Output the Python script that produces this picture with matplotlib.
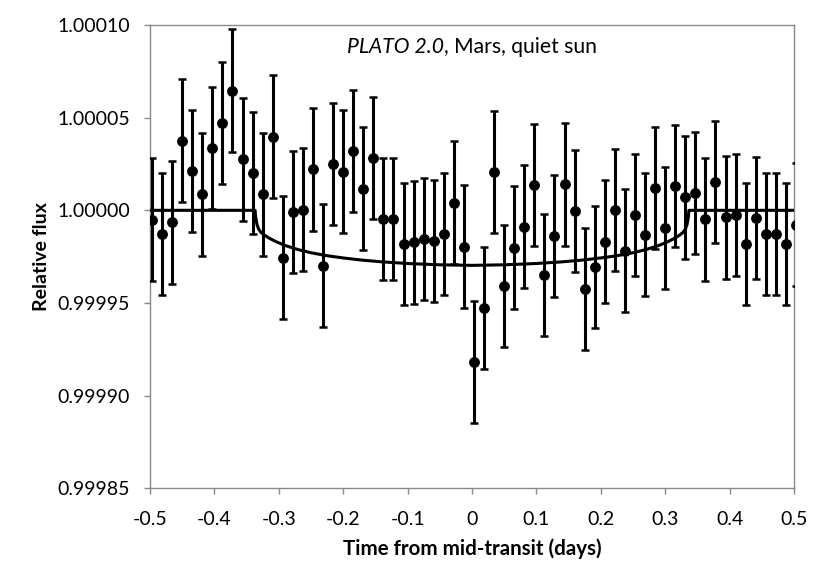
import matplotlib
matplotlib.use("Agg")
import matplotlib.pyplot as plt
import numpy as np

# Time from mid-transit (days)
time_days = [-0.4969, -0.4813, -0.4656, -0.4500, -0.4344, -0.4188, -0.4031, -0.3875,
             -0.3719, -0.3563, -0.3406, -0.3250, -0.3094, -0.2938, -0.2781, -0.2625,
             -0.2469, -0.2313, -0.2156, -0.2000, -0.1844, -0.1688, -0.1531, -0.1375,
             -0.1219, -0.1063, -0.0906, -0.0750, -0.0594, -0.0438, -0.0281, -0.0125,
             0.0031, 0.0188, 0.0344, 0.0500, 0.0656, 0.0813, 0.0969, 0.1125,
             0.1281, 0.1438, 0.1594, 0.1750, 0.1906, 0.2063, 0.2219, 0.2375,
             0.2531, 0.2688, 0.2844, 0.3000, 0.3156, 0.3313, 0.3469, 0.3625,
             0.3781, 0.3938, 0.4094, 0.4250, 0.4406, 0.4563, 0.4719, 0.4875, 0.5031]

# Deviation from unity (ppm)
flux_ppm = [-5.0, -12.9, -6.5, 37.6, 21.3, 8.6, 33.8, 47.3,
            64.6, 27.5, 20.2, 8.6, 39.8, -25.5, -0.9, 0.4,
            22.1, -29.8, 25.0, 20.9, 32.0, 11.7, 28.4, -4.6,
            -4.6, -18.0, -17.3, -15.4, -16.5, -12.9, 4.2, -19.6,
            -81.8, -52.7, 20.5, -41.0, -20.1, -8.8, 13.5, -34.8,
            -13.8, 14.0, -0.5, -42.6, -30.4, -16.9, 0.0, -21.7,
            -2.7, -13.1, 11.9, -9.5, 13.3, 7.0, 9.5, -4.9,
            15.3, -3.8, -2.7, -18.0, -4.3, -12.6, -12.6, -18.0, -7.7]

error_ppm = 33.0

# Transit model curve
model_t = [-0.5, -0.3368, -0.3360, -0.3340, -0.3315, -0.3280, -0.3220, -0.3150,
           -0.3050, -0.2900, -0.2700, -0.2500, -0.2250, -0.2000, -0.1700, -0.1400,
           -0.1000, -0.0500, 0.0,
           0.0500, 0.1000, 0.1400, 0.1700, 0.2000, 0.2250, 0.2500, 0.2700,
           0.2900, 0.3050, 0.3150, 0.3220, 0.3280, 0.3315, 0.3340, 0.3360, 0.3368, 0.5]
model_ppm = [0.0, 0.0, -3.5, -7.5, -10.0, -11.8, -13.5, -15.0,
             -16.8, -19.0, -21.2, -22.9, -24.5, -25.7, -26.9, -27.8,
             -28.7, -29.4, -29.7,
             -29.4, -28.7, -27.8, -26.9, -25.7, -24.5, -22.9, -21.2,
             -19.0, -16.8, -15.0, -13.5, -11.8, -10.0, -7.5, -3.5, 0.0, 0.0]

x_ticks = [-0.5, -0.4, -0.3, -0.2, -0.1, 0, 0.1, 0.2, 0.3, 0.4, 0.5]
x_tick_labels = ["-0.5", "-0.4", "-0.3", "-0.2", "-0.1", "0", "0.1", "0.2", "0.3", "0.4", "0.5"]
y_ticks = [0.99985, 0.99990, 0.99995, 1.00000, 1.00005, 1.00010]
y_tick_labels = ["0.99985", "0.99990", "0.99995", "1.00000", "1.00005", "1.00010"]

title_italic = "PLATO 2.0"
title_rest = ", Mars, quiet sun"

FONT = "Lato"
plt.rcParams['font.family'] = [FONT, 'DejaVu Sans']

fig = plt.figure(figsize=(8.3, 5.86), dpi=100)
ax = fig.add_axes([150/830, 1-488.3/586, (794-150)/830, (488.3-25)/586])

t = np.array(time_days)
f = 1.0 + np.array(flux_ppm) * 1e-6
ax.errorbar(t, f, yerr=error_ppm * 1e-6, fmt='o', color='black', ms=6.8,
            elinewidth=2.2, capsize=2.6, capthick=1.8, zorder=3)
ax.plot(model_t, 1.0 + np.array(model_ppm) * 1e-6, color='black', lw=2.2, zorder=4)

ax.set_xlim(-0.5, 0.5)
ax.set_ylim(0.99985, 1.00010)
ax.set_xticks(x_ticks)
ax.set_xticklabels(x_tick_labels)
ax.set_yticks(y_ticks)
ax.set_yticklabels(y_tick_labels)

spine_col = '#898989'
for s in ax.spines.values():
    s.set_color(spine_col)
    s.set_linewidth(1.0)
ax.tick_params(axis='both', direction='out', length=4.5, width=1.0, color=spine_col,
               labelsize=14, labelcolor='black')
ax.tick_params(axis='x', pad=12)
ax.tick_params(axis='y', pad=10)

ax.set_xlabel("Time from mid-transit (days)", fontsize=14.8, fontweight='bold', labelpad=7)
ax.set_ylabel("Relative flux", fontsize=14, fontweight='bold', labelpad=5)

# Title with italic first part, centred as a whole
t1 = ax.text(0.5, 0.953, title_italic, transform=ax.transAxes, ha='left', va='center',
             fontsize=15.2, style='italic')
t2 = ax.text(0.5, 0.953, title_rest, transform=ax.transAxes, ha='left', va='center',
             fontsize=15.2)
fig.canvas.draw()
r = fig.canvas.get_renderer()
w1 = t1.get_window_extent(r).width
w2 = t2.get_window_extent(r).width
axw = ax.bbox.width
x0 = 0.5 - (w1 + w2) / 2 / axw
t1.set_x(x0)
t2.set_x(x0 + w1 / axw)

fig.savefig("out.png", dpi=100)
